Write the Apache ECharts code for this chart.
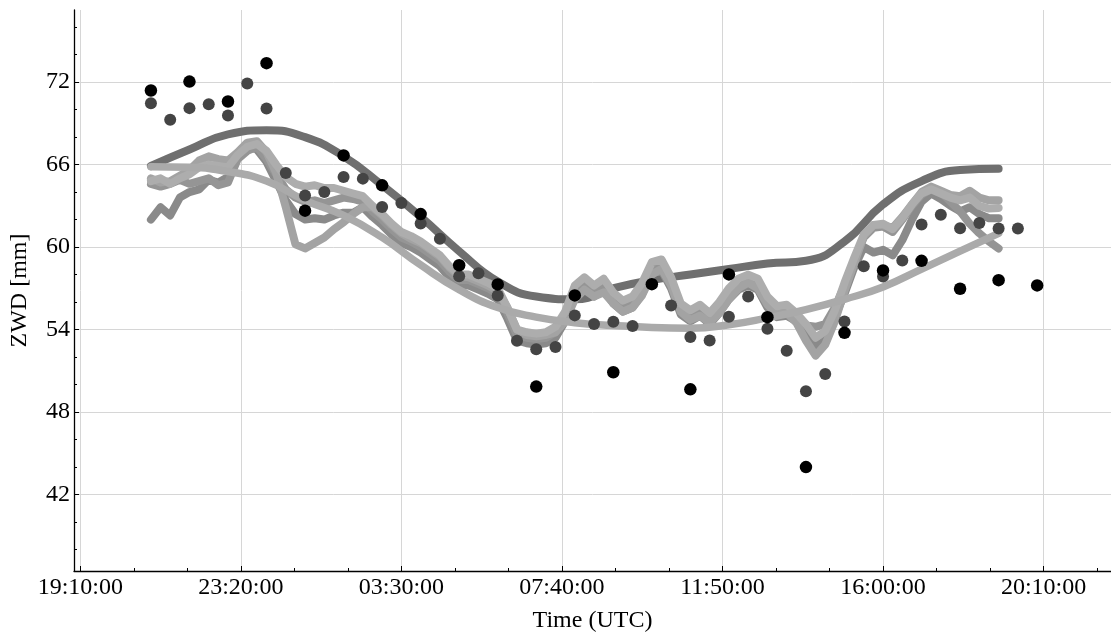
<!DOCTYPE html>
<html>
<head>
<meta charset="utf-8">
<script src="https://cdn.jsdelivr.net/npm/echarts@6/dist/echarts.min.js"></script>
<style>
html,body{margin:0;padding:0;background:#fff;}
#chart{width:1111px;height:638px;}
</style>
</head>
<body>
<div id="chart"></div>
<script>
// ---- axis origin: 19:10:00 (x values are seconds after it) ----
const AXIS_ORIGIN = '19:10:00';
const X_MIN = -588, X_MAX = 96300;
const Y_MIN = 36.43, Y_MAX = 77.25;
const xTickLabels = ['19:10:00', '23:20:00', '03:30:00', '07:40:00', '11:50:00', '16:00:00', '20:10:00'];
const yTickLabels = [42, 48, 54, 60, 66, 72];
const yMinorTicks = [38, 40, 42, 44, 46, 48, 50, 52, 54, 56, 58, 60, 62, 64, 66, 68, 70, 72, 74, 76];

// ---- data ----
const hourlyStart = '21:00';      // black dots & smooth curves: hourly
const halfHourStart = '21:00';    // grey dots: every 30 min
const quarterStart = '21:00';     // noisy curves: every 15 min

const blackDots = [71.39, 72.04, 70.59, 73.38, 62.65, 66.67, 64.49, 62.40, 58.68, 57.28, 49.85, 56.48,
  50.89, 57.30, 49.65, 58.01, 54.90, 43.99, 53.76, 58.30, 59.00, 56.97, 57.59, 57.21];

const greyDots = [70.47, 69.26, 70.11, 70.40, 69.57, 71.90, 70.08, 65.39, 63.76, 64.01, 65.10, 64.98,
  62.92, 63.21, 61.71, 60.60, 57.88, 58.10, 56.48, 53.19, 52.56, 52.73, 55.03, 54.40, 54.57, 54.25,
  null, 55.75, 53.45, 53.21, 54.93, 56.41, 54.06, 52.46, 49.51, 50.77, 54.59, 58.61, 57.86, 59.02,
  61.64, 62.36, 61.37, 61.76, 61.35, 61.35];

const darkSmooth = [65.9, 67.1, 68.2, 68.5, 68.0, 66.6, 64.5, 62.2, 59.7, 57.5, 56.4, 56.2, 57.0, 57.6,
  58.0, 58.4, 58.8, 59.0, 60.4, 63.1, 64.8, 65.6, 65.7];

const lightSmooth = [65.85, 65.8, 65.5, 64.8, 63.4, 62.3, 60.7, 58.7, 56.9, 55.6, 54.9, 54.5, 54.3, 54.15,
  54.1, 54.35, 54.85, 55.45, 56.2, 57.1, 58.4, 59.7, 61.0];

const noisy1 = [62.0, 62.9, 62.3, 63.6, 64.0, 64.2, 64.9, 64.7, 65.1, 66.6, 67.3, 67.1, 66.2, 64.8, 63.4,
  62.4, 62.0, 62.1, 62.0, 62.3, 62.5, 62.5,
  62.9, 62.2, 61.6, 60.9, 60.3, 60.0, 59.6, 59.1, 58.6, 57.8, 57.2, 57.2, 56.9, 56.6, 56.2, 54.8, 53.2,
  53.0, 52.9, 53.0, 53.4, 54.6, 56.4, 57.0, 56.4, 56.9, 55.9, 55.3, 55.6, 56.6, 58.1, 58.3, 57.0, 55.1,
  54.6, 55.0, 54.4, 55.2, 56.2, 56.9, 57.2, 56.9, 55.6, 54.9, 55.0, 54.6, 53.8, 52.8, 53.2, 54.9, 56.6,
  58.5,
  60.0, 59.6, 59.8, 59.4, 60.5, 62.0, 63.3, 63.9, 63.5, 63.0, 62.6, 62.9, 62.4, 62.1, 62.1];

const noisy2 = [64.6, 64.4, 64.6, 64.9, 64.6, 64.8, 65.0, 64.5, 64.7, 66.4, 67.0, 67.3, 66.4, 65.3, 64.2,
  63.6, 63.3, 63.4, 63.2, 63.4, 63.6, 63.5,
  63.3, 62.6, 62.0, 61.3, 60.7, 60.4, 60.0, 59.5, 59.0, 58.2, 57.6, 57.6, 57.3, 57.0, 56.6, 55.2, 53.6,
  53.4, 53.3, 53.4, 53.8, 55.0, 56.8, 57.4, 56.8, 57.3, 56.3, 55.7, 56.0, 57.0, 58.5, 58.7, 57.4, 55.5,
  55.0, 55.4, 54.8, 55.6, 56.6, 57.3, 57.6, 57.3, 56.0, 55.3, 55.4, 54.8, 54.3, 54.2, 54.4, 55.6, 57.2,
  59.0,
  60.7, 61.4, 61.5, 61.1, 62.0, 63.0, 63.8, 64.2, 64.0, 63.3, 62.6, 61.7, 61.0, 60.4, 59.9];

const noisy3 = [65.0, 64.7, 64.8, 65.2, 65.6, 66.3, 66.6, 66.4, 66.3, 66.9, 67.6, 67.7, 66.9, 65.4, 62.9,
  60.2, 59.9, 60.3, 60.7, 61.3, 61.8, 62.4,
  62.9, 62.9, 62.3, 61.6, 61.0, 60.6, 60.3, 59.8, 59.3, 58.5, 57.9, 57.8, 57.5, 57.2, 56.8, 55.6, 54.0,
  53.6, 53.5, 53.6, 53.8, 54.6, 56.2, 56.9, 56.4, 56.7, 55.9, 55.3, 55.6, 56.5, 58.0, 58.4, 57.2, 55.3,
  54.7, 55.0, 54.5, 55.2, 56.2, 57.0, 57.4, 57.0, 55.8, 55.1, 55.2, 54.5, 53.2, 52.1, 52.9, 54.6, 56.8,
  58.8,
  60.8, 61.6, 61.6, 61.4, 62.2, 63.1, 64.0, 64.4, 64.1, 63.8, 63.7, 64.1, 63.6, 63.4, 63.4];

const noisy4 = [64.8, 65.0, 64.6, 65.0, 65.3, 65.8, 66.0, 65.9, 65.8, 66.7, 67.3, 67.5, 67.0, 66.0, 65.1,
  64.6, 64.4, 64.5, 64.3, 64.3, 64.1, 63.9,
  63.7, 63.0, 62.4, 61.7, 61.1, 60.8, 60.4, 59.9, 59.4, 58.6, 58.0, 58.0, 57.7, 57.4, 57.0, 55.6, 54.0,
  53.8, 53.7, 53.8, 54.2, 55.3, 57.2, 57.8, 57.2, 57.7, 56.7, 56.1, 56.4, 57.4, 58.9, 59.1, 57.8, 55.9,
  55.4, 55.8, 55.2, 56.0, 57.0, 57.7, 58.0, 57.7, 56.4, 55.7, 55.8, 55.2, 54.4, 53.4, 53.9, 55.4, 57.4,
  59.2,
  60.9, 61.6, 61.7, 61.3, 62.1, 63.1, 63.9, 64.2, 63.9, 63.6, 63.4, 63.6, 63.0, 62.8, 62.85];

// ---- helpers ----
function clockToSec(s) {
  const p = s.split(':').map(Number);
  return p[0] * 3600 + p[1] * 60 + (p[2] || 0);
}
const ORIGIN_SEC = clockToSec(AXIS_ORIGIN);
function relSec(clock) {          // seconds after the axis origin (wraps past midnight)
  let d = clockToSec(clock) - ORIGIN_SEC;
  if (d < 0) d += 86400;
  return d;
}
function secToClock(v) {
  let s = Math.round(ORIGIN_SEC + v) % 86400;
  if (s < 0) s += 86400;
  const h = Math.floor(s / 3600), m = Math.floor((s % 3600) / 60), ss = s % 60;
  const f = n => (n < 10 ? '0' : '') + n;
  return f(h) + ':' + f(m) + ':' + f(ss);
}
function series(values, start, stepMin) {
  const t0 = relSec(start);
  return values.map((v, i) => [t0 + i * stepMin * 60, v]);
}
// tick values from the labels (each successive label is later than the previous one)
const xTickValues = [];
(function () {
  let prev = 0;
  xTickLabels.forEach((c) => {
    let v = clockToSec(c) - ORIGIN_SEC;
    while (v < prev) v += 86400;
    xTickValues.push(v); prev = v;
  });
})();
const xMinorTicks = [];
for (let i = 0; i < xTickValues.length; i++) {
  const step = (xTickValues[1] - xTickValues[0]) / 3;
  for (let k = 0; k < 3; k++) {
    const v = xTickValues[i] + k * step;
    if (v <= X_MAX) xMinorTicks.push(v);
  }
}

const FONT = '"Liberation Serif", "Times New Roman", serif';
const FS = 24;

function noisyLine(data, color) {
  return {
    type: 'line', data: data, showSymbol: false, symbol: 'none', z: 3,
    lineStyle: { color: color, width: 8, cap: 'round', join: 'round' },
    itemStyle: { color: color }, animation: false, silent: true
  };
}

const chart = echarts.init(document.getElementById('chart'), null, { renderer: 'canvas' });
chart.setOption({
  animation: false,
  backgroundColor: '#ffffff',
  grid: { left: 73, right: 0, top: 10, bottom: 66, containLabel: false },
  xAxis: [{
    type: 'value', min: X_MIN, max: X_MAX,
    name: 'Time (UTC)', nameLocation: 'middle', nameGap: 38,
    nameTextStyle: { fontFamily: FONT, fontSize: FS, color: '#000' },
    axisLine: { show: true, onZero: false, lineStyle: { color: '#000', width: 1.3 } },
    axisTick: { show: true, inside: true, length: 5, customValues: xTickValues, lineStyle: { color: '#000', width: 1 } },
    axisLabel: { show: true, customValues: xTickValues, formatter: v => secToClock(v), fontFamily: FONT, fontSize: FS, color: '#000', margin: 5 },
    splitLine: { show: true, lineStyle: { color: '#d6d6d6', width: 1 } },
    minorTick: { show: false }
  }, {
    type: 'value', min: X_MIN, max: X_MAX, position: 'bottom',
    axisLine: { show: false, onZero: false },
    axisTick: { show: true, inside: true, length: 3, customValues: xMinorTicks, lineStyle: { color: '#000', width: 1 } },
    axisLabel: { show: false }, splitLine: { show: false }
  }],
  yAxis: [{
    type: 'value', min: Y_MIN, max: Y_MAX,
    name: 'ZWD [mm]', nameLocation: 'middle', nameGap: 42, nameRotate: 90,
    nameTextStyle: { fontFamily: FONT, fontSize: FS, color: '#000' },
    axisLine: { show: true, onZero: false, lineStyle: { color: '#000', width: 1.3 } },
    axisTick: { show: true, inside: true, length: 5, customValues: yTickLabels, lineStyle: { color: '#000', width: 1 } },
    axisLabel: { show: true, customValues: yTickLabels, fontFamily: FONT, fontSize: FS, color: '#000', margin: 4 },
    splitLine: { show: true, lineStyle: { color: '#d6d6d6', width: 1 } }
  }, {
    type: 'value', min: Y_MIN, max: Y_MAX, position: 'left',
    axisLine: { show: false, onZero: false },
    axisTick: { show: true, inside: true, length: 3, customValues: yMinorTicks, lineStyle: { color: '#000', width: 1 } },
    axisLabel: { show: false }, splitLine: { show: false }
  }],
  series: [
    { type: 'line', data: series(darkSmooth, hourlyStart, 60), smooth: true, showSymbol: false, symbol: 'none', z: 2,
      lineStyle: { color: '#6f6f6f', width: 8, cap: 'round' }, itemStyle: { color: '#6f6f6f' }, silent: true },
    noisyLine(series(noisy1, quarterStart, 15), '#8a8a8a'),
    noisyLine(series(noisy2, quarterStart, 15), '#959595'),
    noisyLine(series(noisy3, quarterStart, 15), '#a3a3a3'),
    noisyLine(series(noisy4, quarterStart, 15), '#adadad'),
    { type: 'line', data: series(lightSmooth, hourlyStart, 60), smooth: true, showSymbol: false, symbol: 'none', z: 4,
      lineStyle: { color: '#aaaaaa', width: 7.5, cap: 'round' }, itemStyle: { color: '#aaaaaa' }, silent: true },
    { type: 'scatter', data: series(greyDots, halfHourStart, 30), symbolSize: 12, z: 5,
      itemStyle: { color: '#444444', opacity: 1 }, silent: true },
    { type: 'scatter', data: series(blackDots, hourlyStart, 60), symbolSize: 12.5, z: 6,
      itemStyle: { color: '#000000', opacity: 1 }, silent: true }
  ]
});
</script>
</body>
</html>
